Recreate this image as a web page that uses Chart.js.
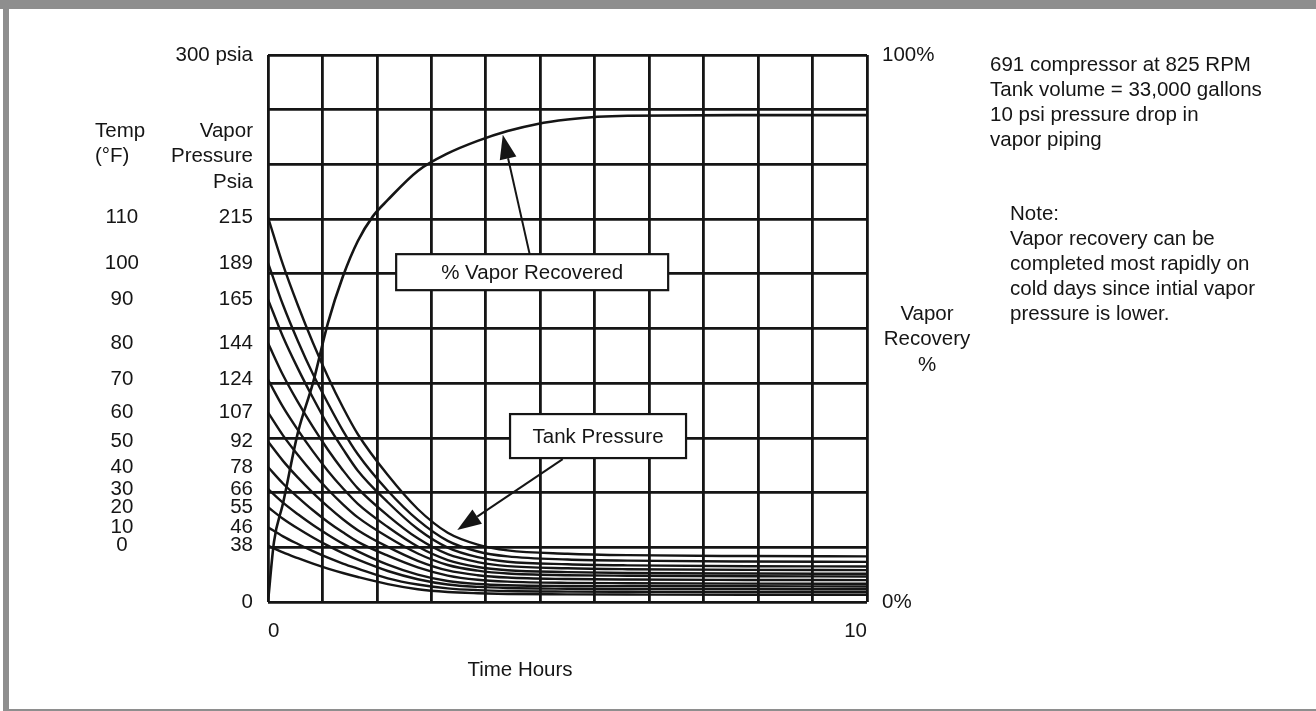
<!DOCTYPE html>
<html>
<head>
<meta charset="utf-8">
<title>Vapor recovery vs time</title>
<script src="https://cdn.jsdelivr.net/npm/chart.js@4.4.1/dist/chart.umd.min.js"></script>
<style>
  html, body { margin: 0; padding: 0; background: #fff; }
  #wrap { position: relative; width: 1316px; height: 711px; overflow: hidden; }
  #wrap canvas { position: absolute; left: 0; top: 0; }
  /* grey frame of the scanned page */
  #frame {
    position: absolute; left: 3px; top: 0; width: 1313px; height: 711px;
    box-sizing: border-box; pointer-events: none;
    border-top: 9px solid #8e8e8e; border-left: 6px solid #8e8e8e; border-bottom: 2px solid #8e8e8e;
  }
  #frameTop { position: absolute; left: 0; top: 0; width: 1316px; height: 9px; background: #8e8e8e; }
</style>
</head>
<body>
<div id="wrap">
  <canvas id="grafico"></canvas>
  <div id="frame"></div>
  <div id="frameTop"></div>
</div>
<script>
// ===============================
// DATA
// ===============================
const hours = [0, 0.25, 0.5, 0.75, 1, 1.25, 1.5, 2, 2.5, 3, 3.5, 4, 5, 6, 8, 10];

// tank pressure (psia) for each starting temperature
const tank110 = [211, 185, 162.6, 142.2, 123.6, 106.8, 92, 69.6, 51, 38, 31.5, 28.3, 26.5, 25.7, 25.2, 25];
const tank100 = [186, 163, 143, 125, 109, 94, 81, 61, 45, 33.5, 27.7, 25, 23.3, 22.7, 22.2, 22];
const tank90  = [166, 145.5, 128, 112, 97, 84, 72, 54.7, 40, 29.8, 24.6, 22.1, 20.7, 20.1, 19.6, 19.5];
const tank80  = [142, 124.5, 109.6, 96, 83.5, 72.3, 62.3, 47.4, 34.9, 26.2, 21.9, 19.7, 18.5, 18, 17.6, 17.5];
const tank70  = [122, 107, 94.3, 82.6, 71.9, 62.4, 53.8, 41.1, 30.4, 23, 19.2, 17.4, 16.4, 15.9, 15.6, 15.5];
const tank60  = [104, 91.4, 80.6, 70.7, 61.7, 53.6, 46.4, 35.6, 26.6, 20.3, 17.2, 15.6, 14.7, 14.4, 14.1, 14];
const tank50  = [88, 77.4, 68.2, 59.9, 52.3, 45.4, 39.4, 30.2, 22.6, 17.3, 14.7, 13.4, 12.6, 12.3, 12.1, 12];
const tank40  = [74, 65, 57.4, 50.3, 43.9, 38.2, 33, 25.4, 19, 14.5, 12.2, 11.2, 10.5, 10.3, 10.1, 10];
const tank30  = [62, 54.5, 48.1, 42.2, 36.9, 32, 27.8, 20.5, 15, 11.5, 9.9, 9.2, 8.8, 8.7, 8.6, 8.5];
const tank20  = [52, 45.7, 40.3, 35.4, 30.9, 26.8, 23.2, 17, 12.5, 9.6, 8.3, 7.7, 7.3, 7.1, 7.05, 7];
const tank10  = [41, 36, 31.8, 27.9, 24.3, 21.1, 18.3, 13, 9.6, 7.5, 6.5, 6, 5.7, 5.6, 5.5, 5.5];
const tank0   = [31, 27.2, 24, 21, 18.3, 15.9, 13.7, 9.8, 7, 5.5, 4.8, 4.4, 4.2, 4.1, 4, 4];
const tankCurves = [tank110, tank100, tank90, tank80, tank70, tank60, tank50, tank40, tank30, tank20, tank10, tank0];

// % vapor recovered
const vaporHours = [0, 0.1, 0.25, 0.5, 0.75, 1, 1.25, 1.5, 1.75, 2, 2.5, 3, 3.5, 4, 4.5, 5, 5.5, 6, 8, 10];
const vaporRecovered = [0, 11, 18, 31, 40, 51, 59.5, 66, 70.5, 73.5, 78.8, 82, 84.3, 86.1, 87.4, 88.2, 88.7, 88.9, 89, 89];

// tick labels
const tempLabels = ['110', '100', '90', '80', '70', '60', '50', '40', '30', '20', '10', '0'];
const psiaLabels = ['215', '189', '165', '144', '124', '107', '92', '78', '66', '55', '46', '38'];
const timeLabels = ['0', '10'];
const recoveryLabels = ['0%', '100%'];

// ===============================
// STYLE
// ===============================
const INK = '#151515';
const FONT_FAMILY = '"Liberation Sans", Arial, Helvetica, sans-serif';
const FONT_SIZE = 20.5;
const GRID_COLS = 11;
const GRID_ROWS = 10;

Chart.defaults.font.family = FONT_FAMILY;
Chart.defaults.font.size = FONT_SIZE;
Chart.defaults.color = INK;

// ticks of the pressure columns sit where each curve leaves the axis
const pressureTicks = [0, ...tankCurves.map(c => c[0]).reverse(), 300];
const psiaTickText = ['0', ...psiaLabels.slice().reverse(), '300 psia'];
const tempTickText = ['', ...tempLabels.slice().reverse(), ''];

// ===============================
// FREE TEXT, BOXES AND ARROWS
// ===============================
const textBlocks = [
  { lines: ['Temp', '(°F)'], x: 95, y: 131, gap: 25, align: 'left' },
  { lines: ['Vapor', 'Pressure', 'Psia'], x: 253, y: 131, gap: 25.5, align: 'right' },
  { lines: ['Vapor', 'Recovery', '%'], x: 927, y: 314, gap: 25.5, align: 'center' },
  { lines: ['691 compressor at 825 RPM', 'Tank volume = 33,000 gallons', '10 psi pressure drop in', 'vapor piping'], x: 990, y: 65, gap: 25, align: 'left' },
  { lines: ['Note:', 'Vapor recovery can be', 'completed most rapidly on', 'cold days since intial vapor', 'pressure is lower.'], x: 1010, y: 214, gap: 25, align: 'left' },
  { lines: ['Time Hours'], x: 520, y: 670, gap: 25, align: 'center' }
];

const callouts = [
  { text: '% Vapor Recovered', axis: 'y2', at: [4.41, 60.3], w: 272, h: 36, from: [4.37, 63.5], to: [3.92, 85.4] },
  { text: 'Tank Pressure', axis: 'y', at: [5.51, 91], w: 176, h: 44, from: [4.92, 78.4], to: [3.16, 39.5] }
];

function drawArrow(ctx, x1, y1, x2, y2) {
  const a = Math.atan2(y2 - y1, x2 - x1);
  const len = 24, half = 8.5;
  const bx = x2 - len * Math.cos(a), by = y2 - len * Math.sin(a);
  ctx.beginPath();
  ctx.moveTo(x1, y1);
  ctx.lineTo(bx, by);
  ctx.stroke();
  ctx.beginPath();
  ctx.moveTo(x2, y2);
  ctx.lineTo(bx + half * Math.sin(a), by - half * Math.cos(a));
  ctx.lineTo(bx - half * Math.sin(a), by + half * Math.cos(a));
  ctx.closePath();
  ctx.fill();
}

const overlayPlugin = {
  id: 'overlay',
  afterDatasetsDraw(chart) {
    const { ctx, scales } = chart;
    ctx.save();
    ctx.font = `${FONT_SIZE}px ${FONT_FAMILY}`;
    ctx.fillStyle = INK;
    ctx.strokeStyle = INK;
    ctx.textBaseline = 'middle';

    // arrows first, boxes cover their tails
    ctx.lineWidth = 2;
    callouts.forEach(c => {
      const ys = scales[c.axis];
      drawArrow(ctx,
        scales.x.getPixelForValue(c.from[0]), ys.getPixelForValue(c.from[1]),
        scales.x.getPixelForValue(c.to[0]), ys.getPixelForValue(c.to[1]));
    });

    callouts.forEach(c => {
      const ys = scales[c.axis];
      const cx = scales.x.getPixelForValue(c.at[0]);
      const cy = ys.getPixelForValue(c.at[1]);
      ctx.fillStyle = '#fff';
      ctx.fillRect(cx - c.w / 2, cy - c.h / 2, c.w, c.h);
      ctx.lineWidth = 2.2;
      ctx.strokeRect(cx - c.w / 2, cy - c.h / 2, c.w, c.h);
      ctx.fillStyle = INK;
      ctx.textAlign = 'center';
      ctx.fillText(c.text, cx, cy + 1);
    });

    textBlocks.forEach(b => {
      ctx.textAlign = b.align;
      b.lines.forEach((line, i) => ctx.fillText(line, b.x, b.y + i * b.gap));
    });
    ctx.restore();
  }
};

// ===============================
// CHART
// ===============================
const datasets = tankCurves.map((curve, i) => ({
  label: `Tank pressure ${tempLabels[i]} °F`,
  data: curve.map((p, j) => ({ x: hours[j], y: p })),
  yAxisID: 'y',
  borderColor: INK,
  borderWidth: 2.4,
  pointRadius: 0,
  cubicInterpolationMode: 'monotone'
}));

datasets.push({
  label: '% Vapor Recovered',
  data: vaporRecovered.map((v, j) => ({ x: vaporHours[j], y: v })),
  yAxisID: 'y2',
  borderColor: INK,
  borderWidth: 2.6,
  pointRadius: 0,
  cubicInterpolationMode: 'monotone'
});

new Chart(document.getElementById('grafico'), {
  type: 'line',
  data: { datasets },
  plugins: [overlayPlugin],
  options: {
    responsive: true,
    maintainAspectRatio: false,
    animation: false,
    events: [],
    layout: { padding: { left: 70, top: 55, right: 0, bottom: 0 } },
    plugins: { legend: { display: false }, tooltip: { enabled: false } },
    scales: {
      x: {
        type: 'linear', min: 0, max: 10,
        afterBuildTicks: s => {
          s.ticks = Array.from({ length: GRID_COLS + 1 }, (_, i) => ({ value: i * 10 / GRID_COLS }));
        },
        afterFit: s => { s.height = 109; },
        grid: { color: INK, lineWidth: 2.8, drawTicks: false },
        border: { display: false },
        ticks: {
          autoSkip: false, maxRotation: 0, align: 'inner', padding: 17,
          callback: (v, i, ticks) => i === 0 ? timeLabels[0] : (i === ticks.length - 1 ? timeLabels[1] : '')
        }
      },
      y: {
        position: 'left', weight: 0, min: 0, max: 300,
        afterBuildTicks: s => { s.ticks = pressureTicks.map(v => ({ value: v })); },
        afterFit: s => { s.width = 118; },
        grid: { display: false, drawTicks: false },
        border: { display: false },
        ticks: { autoSkip: false, padding: 15, callback: (v, i) => psiaTickText[i] }
      },
      yT: {
        position: 'left', weight: 1, min: 0, max: 300,
        afterBuildTicks: s => { s.ticks = pressureTicks.map(v => ({ value: v })); },
        afterFit: s => { s.width = 80; },
        grid: { display: false, drawTicks: false },
        border: { display: false },
        ticks: { autoSkip: false, crossAlign: 'center', padding: 11, callback: (v, i) => tempTickText[i] }
      },
      y2: {
        position: 'right', min: 0, max: 100,
        afterBuildTicks: s => {
          s.ticks = Array.from({ length: GRID_ROWS + 1 }, (_, i) => ({ value: i * 100 / GRID_ROWS }));
        },
        afterFit: s => { s.width = 449; },
        grid: { color: INK, lineWidth: 2.8, drawTicks: false },
        border: { display: false },
        ticks: {
          autoSkip: false, padding: 15,
          callback: v => v === 0 ? recoveryLabels[0] : (v === 100 ? recoveryLabels[1] : '')
        }
      }
    }
  }
});
</script>
</body>
</html>
